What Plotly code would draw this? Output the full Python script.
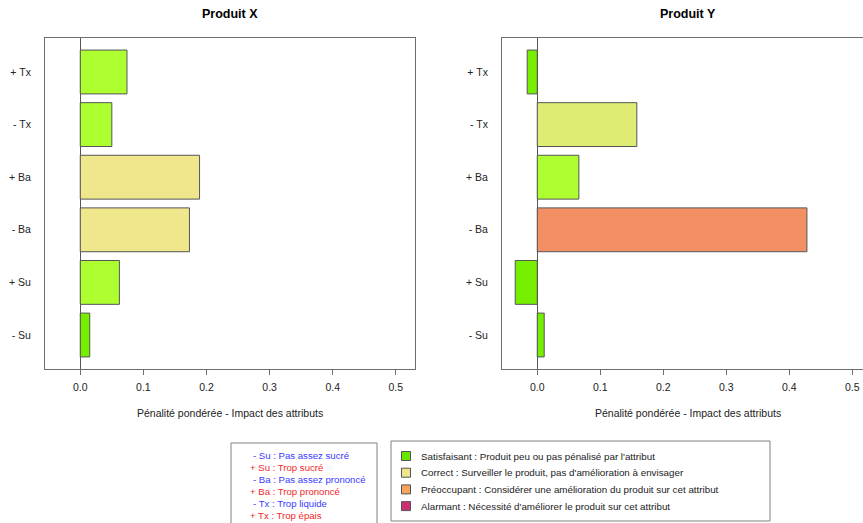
import plotly.graph_objects as go

W, H = 863, 523

# ---- data ----
attributes = ["- Su", "+ Su", "- Ba", "+ Ba", "- Tx", "+ Tx"]  # bottom -> top
values_x = [0.015, 0.062, 0.173, 0.189, 0.050, 0.074]
values_y = [0.011, -0.035, 0.428, 0.066, 0.158, -0.016]
colors_x = ["#76EE00", "#ADFF2F", "#F0E68C", "#F0E68C", "#ADFF2F", "#ADFF2F"]
colors_y = ["#76EE00", "#76EE00", "#F29063", "#ADFF2F", "#DFEC74", "#76EE00"]
titles = ["Produit X", "Produit Y"]
axis_title = "Pénalité pondérée - Impact des attributs"
tick_vals = [0.0, 0.1, 0.2, 0.3, 0.4, 0.5]
tick_text = ["0.0", "0.1", "0.2", "0.3", "0.4", "0.5"]

legend_attr = [
    ("- Su : Pas assez sucré", "#3A3AFF"),
    ("+ Su : Trop sucré", "#F02828"),
    ("- Ba : Pas assez prononcé", "#3A3AFF"),
    ("+ Ba : Trop prononcé", "#F02828"),
    ("- Tx : Trop liquide", "#3A3AFF"),
    ("+ Tx : Trop épais", "#F02828"),
]
legend_levels = [
    ("Satisfaisant : Produit peu ou pas pénalisé par l'attribut", "#66E600"),
    ("Correct : Surveiller le produit, pas d'amélioration à envisager", "#EEE68C"),
    ("Préoccupant : Considérer une amélioration du produit sur cet attribut", "#F5A460"),
    ("Alarmant : Nécessité d'améliorer le produit sur cet attribut", "#CC2F74"),
]

FONT = "Liberation Sans, Arial, sans-serif"
LINE = "#6E6E6E"


def px(x):
    return x / W


def py(y):
    return 1 - y / H


fig = go.Figure()
fig.add_trace(go.Bar(x=values_x, y=attributes, orientation="h",
                     marker=dict(color=colors_x, line=dict(color="#555555", width=1)),
                     xaxis="x", yaxis="y", showlegend=False))
fig.add_trace(go.Bar(x=values_y, y=attributes, orientation="h",
                     marker=dict(color=colors_y, line=dict(color="#555555", width=1)),
                     xaxis="x2", yaxis="y2", showlegend=False))

ydom = [py(369), py(38)]
common_x = dict(tickvals=tick_vals, ticktext=tick_text, ticks="outside", ticklen=5,
                tickcolor=LINE, showgrid=False, zeroline=True, zerolinecolor="#555555",
                zerolinewidth=1, showline=True, linecolor=LINE, linewidth=1,
                tickfont=dict(family=FONT, size=10.5, color="#222222"),
                ticklabelstandoff=3)
common_y = dict(categoryorder="array", categoryarray=attributes, range=[-0.646, 5.646],
                showgrid=False, zeroline=False, ticks="", showline=True, linecolor=LINE,
                linewidth=1, tickfont=dict(family=FONT, size=10.5, color="#222222"),
                ticklabelstandoff=11)

fig.update_layout(
    width=W, height=H, margin=dict(l=0, r=0, t=0, b=0),
    plot_bgcolor="white", paper_bgcolor="white", bargap=0.1667,
    xaxis=dict(domain=[px(45), px(415)], range=[-0.0559, 0.5304], anchor="y",
               mirror=True, **common_x),
    yaxis=dict(domain=ydom, anchor="x", mirror=True, **common_y),
    xaxis2=dict(domain=[px(502), 1.0], range=[-0.0560, 0.517], anchor="y2",
                mirror=True, **common_x),
    yaxis2=dict(domain=ydom, anchor="x2", mirror=False, **common_y),
)

ann = []
for cx, t in zip([230, 687.5], titles):
    ann.append(dict(x=px(cx), y=py(14), xref="paper", yref="paper", text="<b>%s</b>" % t,
                    showarrow=False, xanchor="center", yanchor="middle",
                    font=dict(family=FONT, size=12.5, color="black")))
    ann.append(dict(x=px(cx), y=py(413), xref="paper", yref="paper", text=axis_title,
                    showarrow=False, xanchor="center", yanchor="middle",
                    font=dict(family=FONT, size=10.5, color="#222222")))

# attribute legend
shapes = []
shapes.append(dict(type="rect", xref="paper", yref="paper", x0=px(231), x1=px(377),
                   y0=py(535), y1=py(443), line=dict(color="#808080", width=1)))
for i, (t, c) in enumerate(legend_attr):
    xoff = 251 if t.startswith("-") else 248
    ann.append(dict(x=px(xoff), y=py(455 + 12 * i), xref="paper", yref="paper", text=t,
                    showarrow=False, xanchor="left", yanchor="middle",
                    font=dict(family=FONT, size=9.6, color=c)))

# level legend
shapes.append(dict(type="rect", xref="paper", yref="paper", x0=px(391), x1=px(770),
                   y0=py(521), y1=py(441), line=dict(color="#808080", width=1)))
for i, (t, c) in enumerate(legend_levels):
    yc = 456 + 16.7 * i
    shapes.append(dict(type="rect", xref="paper", yref="paper", x0=px(401.5), x1=px(410.5),
                       y0=py(yc + 4.5), y1=py(yc - 4.5), fillcolor=c,
                       line=dict(color="#555555", width=1)))
    ann.append(dict(x=px(419), y=py(yc), xref="paper", yref="paper", text=t,
                    showarrow=False, xanchor="left", yanchor="middle",
                    font=dict(family=FONT, size=9.8, color="#222222")))

fig.update_layout(annotations=ann, shapes=shapes)
fig.write_html("out.html", config={"displayModeBar": False},
               post_script="document.body.style.margin='0';document.body.style.overflow='hidden';")
